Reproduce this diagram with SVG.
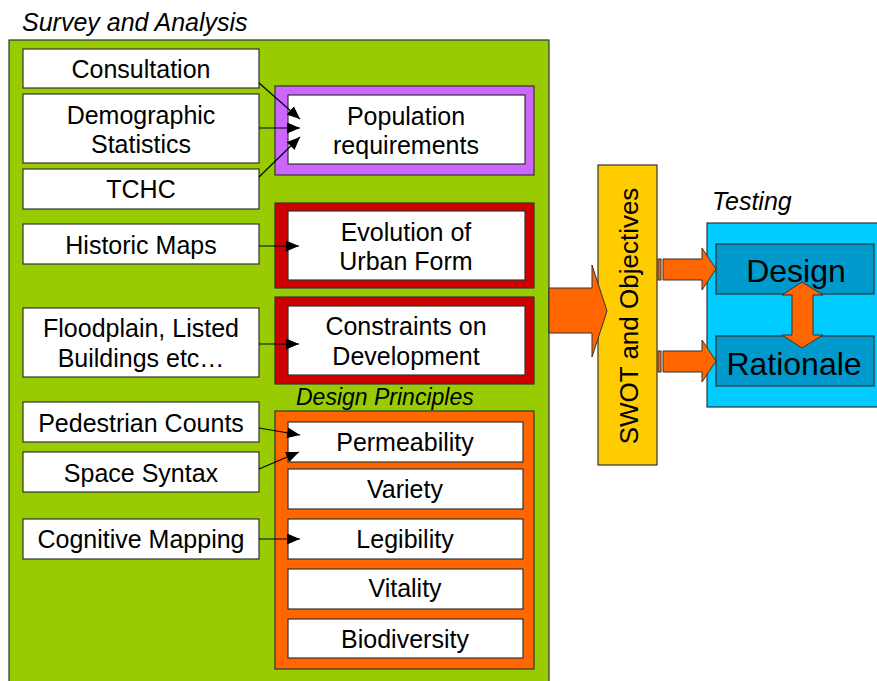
<svg xmlns="http://www.w3.org/2000/svg" width="877" height="681" viewBox="0 0 877 681">
<style>
text{font-family:"Liberation Sans",Arial,sans-serif;font-size:25px;fill:#000;text-anchor:middle}
.ti{font-style:italic;text-anchor:start}
.w{fill:#fff;stroke:#333;stroke-width:1.2}
.o{stroke:#333;stroke-width:1.2}
.c{stroke:#000;stroke-width:1.2;fill:none;marker-end:url(#ah)}
.ar{fill:#FF6600;stroke:#333;stroke-width:1}
</style>
<defs>
<marker id="ah" markerWidth="13" markerHeight="11" refX="13" refY="5.5" orient="auto" markerUnits="userSpaceOnUse">
<path d="M0,0 L13,5.5 L0,11 Z" fill="#000"/>
</marker>
</defs>
<rect width="877" height="681" fill="#fff"/>

<g id="survey">
<rect x="9" y="40" width="540" height="660" fill="#99CC00" class="o"/>
<text class="ti" x="22" y="31">Survey and Analysis</text>
</g>

<g id="consultation"><rect class="w" x="23" y="49" width="236" height="39"/><text x="141" y="78">Consultation</text></g>
<g id="demographic"><rect class="w" x="23" y="94" width="236" height="69"/><text x="141" y="124">Demographic</text><text x="141" y="153">Statistics</text></g>
<g id="tchc"><rect class="w" x="23" y="169" width="236" height="40"/><text x="141" y="198">TCHC</text></g>
<g id="historic"><rect class="w" x="23" y="224" width="236" height="40"/><text x="141" y="254">Historic Maps</text></g>
<g id="floodplain"><rect class="w" x="23" y="308" width="236" height="69"/><text x="141" y="337">Floodplain, Listed</text><text x="141" y="367">Buildings etc…</text></g>
<g id="pedestrian"><rect class="w" x="23" y="402" width="236" height="40"/><text x="141" y="432">Pedestrian Counts</text></g>
<g id="spacesyntax"><rect class="w" x="23" y="452" width="236" height="40"/><text x="141" y="482">Space Syntax</text></g>
<g id="cognitive"><rect class="w" x="23" y="519" width="236" height="40"/><text x="141" y="548">Cognitive Mapping</text></g>

<g id="population"><rect x="275" y="86" width="259" height="89" fill="#CC66FF" class="o"/><rect class="w" x="288" y="95" width="237" height="69"/><text x="406" y="125">Population</text><text x="406" y="154">requirements</text></g>
<g id="evolution"><rect x="275" y="203" width="259" height="85" fill="#CC0000" class="o"/><rect class="w" x="288" y="211" width="237" height="69"/><text x="406" y="241">Evolution of</text><text x="406" y="270">Urban Form</text></g>
<g id="constraints"><rect x="275" y="297" width="259" height="87" fill="#CC0000" class="o"/><rect class="w" x="288" y="306" width="237" height="69"/><text x="406" y="335">Constraints on</text><text x="406" y="365">Development</text></g>

<g id="principles">
<text class="ti" x="296" y="405" style="font-size:23px">Design Principles</text>
<rect x="275" y="411" width="259" height="258" fill="#FF6600" class="o"/>
</g>
<g id="permeability"><rect class="w" x="288" y="422" width="235" height="40"/><text x="405" y="451">Permeability</text></g>
<g id="variety"><rect class="w" x="288" y="469" width="235" height="40"/><text x="405" y="498">Variety</text></g>
<g id="legibility"><rect class="w" x="288" y="519" width="235" height="40"/><text x="405" y="548">Legibility</text></g>
<g id="vitality"><rect class="w" x="288" y="569" width="235" height="40"/><text x="405" y="597">Vitality</text></g>
<g id="biodiversity"><rect class="w" x="288" y="619" width="235" height="39"/><text x="405" y="648">Biodiversity</text></g>

<g id="swot"><rect x="598" y="165" width="59" height="300" fill="#FFCC00" class="o"/><text transform="translate(638,316) rotate(-90)" style="font-size:26px">SWOT and Objectives</text></g>

<g id="testing">
<text class="ti" x="712" y="210" style="font-size:25px">Testing</text>
<rect x="707" y="223" width="190" height="184" fill="#00CCFF" class="o"/>
</g>
<g id="design"><rect x="716" y="244" width="158" height="50" fill="#0099CC" class="o"/></g>
<g id="rationale"><rect x="716" y="336" width="158" height="50" fill="#0099CC" class="o"/></g>

<g id="connectors">
<line class="c" x1="259" y1="83" x2="300" y2="119"/>
<line class="c" x1="259" y1="128" x2="300" y2="128"/>
<line class="c" x1="259" y1="177" x2="300" y2="137"/>
<line class="c" x1="259" y1="246" x2="299" y2="246"/>
<line class="c" x1="259" y1="344" x2="299" y2="344"/>
<line class="c" x1="259" y1="428" x2="300" y2="435"/>
<line class="c" x1="259" y1="469" x2="299" y2="452"/>
<line class="c" x1="259" y1="539" x2="300" y2="539"/>
<polygon class="ar" points="549,288 592,288 592,265 607,311 592,357 592,333 549,333"/>
<rect class="ar" x="658" y="259" width="3" height="21"/>
<polygon class="ar" points="663,259 702,259 702,248 716,269 702,290 702,280 663,280"/>
<rect class="ar" x="658" y="351" width="3" height="21"/>
<polygon class="ar" points="663,351 702,351 702,340 716,361 702,382 702,372 663,372"/>
<polygon class="ar" points="802,282 823,295 813,295 813,335 823,335 802,348 782,335 792,335 792,295 782,295"/>
</g>
<text x="796" y="282" style="font-size:32px">Design</text>
<text x="794" y="375" style="font-size:32px">Rationale</text>
</svg>
